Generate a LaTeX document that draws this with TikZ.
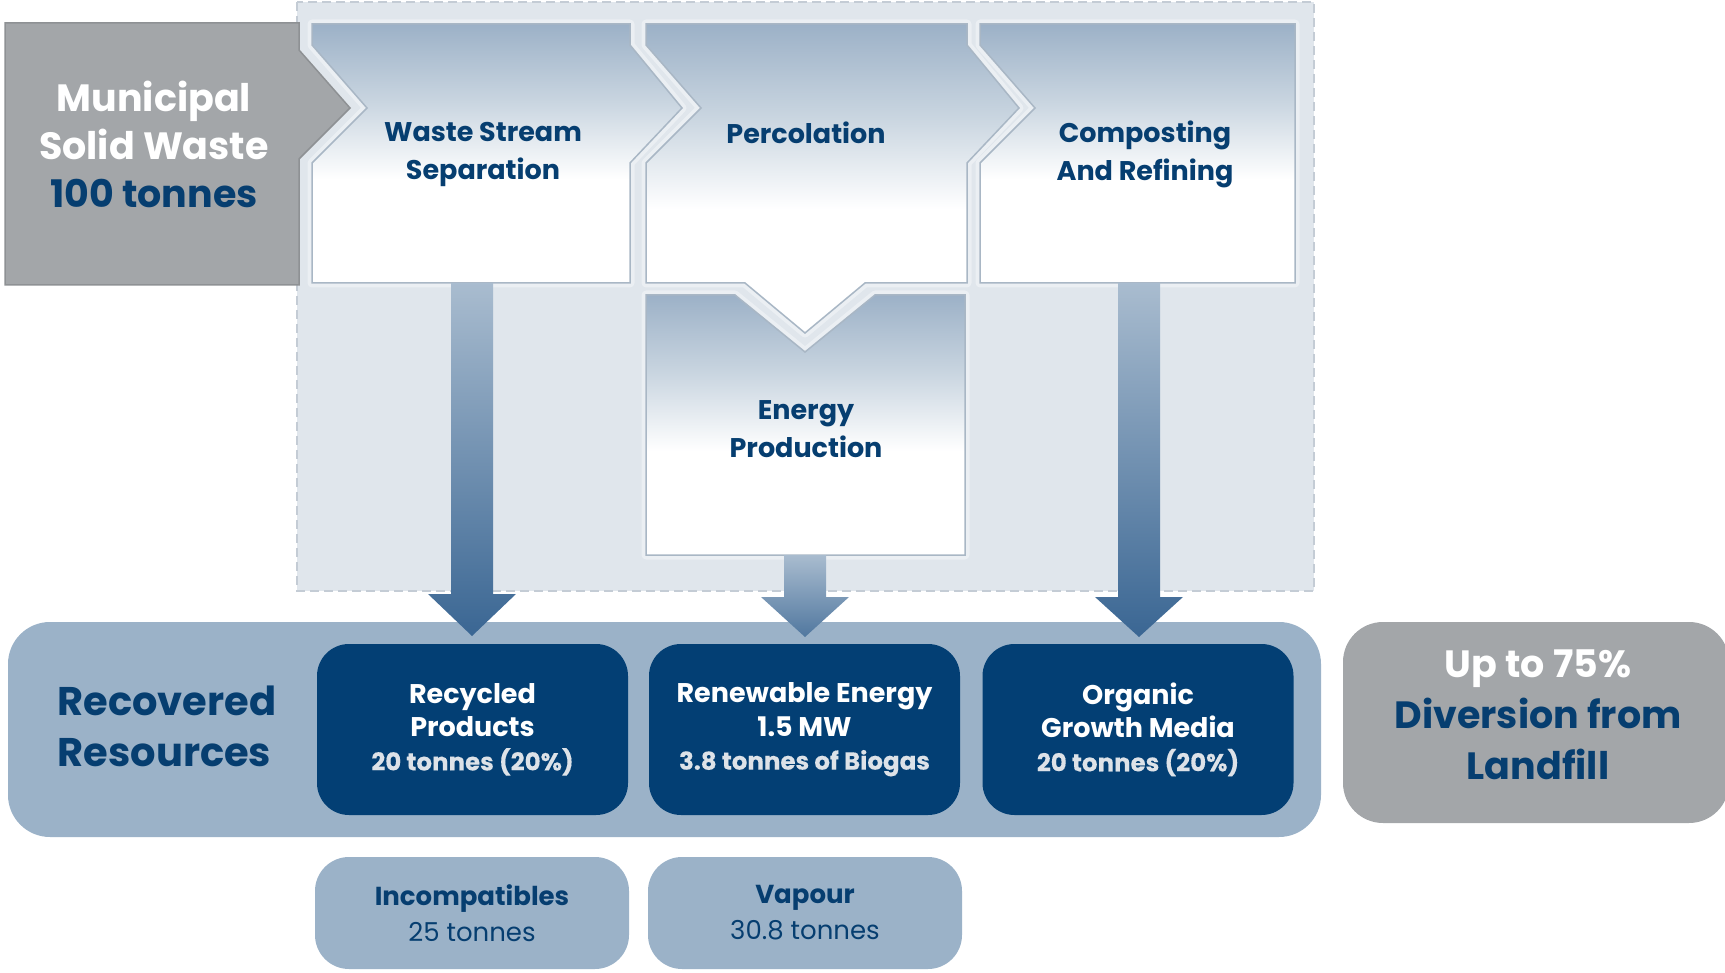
\documentclass[tikz,border=0pt]{standalone}
\usepackage{fontspec}
\setmainfont{Poppins}
\newfontfamily\medfont[FakeBold=0.25]{Poppins}
\usetikzlibrary{calc}

\definecolor{navy}{HTML}{033F74}
\definecolor{ink}{HTML}{063E70}
\definecolor{bandblue}{HTML}{9BB2C8}
\definecolor{panel}{HTML}{E0E6EC}
\definecolor{panelline}{HTML}{C4CCD5}
\definecolor{slate}{HTML}{A3A6A9}
\definecolor{slateedge}{HTML}{8E9194}
\definecolor{boxtop}{HTML}{9CB1C7}
\definecolor{boxmid}{HTML}{C9D5E0}
\definecolor{boxedge}{HTML}{A9B7C5}
\definecolor{halo}{HTML}{EBEFF3}
\definecolor{subgray}{HTML}{DDE2E8}
\definecolor{arrowlight}{HTML}{A9BCCF}
\definecolor{arrowdark}{HTML}{3A6693}

% white lower half, blue-grey fade towards the top edge
\pgfdeclareverticalshading{stagefade}{100bp}{color(0bp)=(white); color(25bp)=(white); color(45bp)=(white); color(60bp)=(boxmid); color(75bp)=(boxtop); color(100bp)=(boxtop)}

\tikzset{
  stage/.style={shading=stagefade, draw=boxedge, line width=1.5pt, line join=miter},
  stagehalo/.style={draw=halo, line width=9pt, line join=round},
  stagelabel/.style={text=ink, align=center, font=\fontsize{27}{38}\selectfont\bfseries},
  darkbox/.style={fill=navy, rounded corners=32pt, minimum width=311pt, minimum height=171pt,
                  align=center, text=white, inner sep=0pt, font=\fontsize{27}{33.5}\selectfont\bfseries},
  palebox/.style={fill=bandblue, rounded corners=34pt, minimum width=314pt, minimum height=112pt,
                  align=center, text=ink, inner sep=0pt, font=\fontsize{26}{36}\selectfont},
  flowarrow/.style={top color=arrowlight, bottom color=arrowdark, draw=none},
}
\newcommand{\subline}[1]{{\medfont\fontsize{24.5}{33.5}\selectfont\color{subgray}#1}}

\begin{document}
\begin{tikzpicture}[x=1pt, y=-1pt]
\useasboundingbox (0,0) rectangle (1725,973);

% process panel
\draw[fill=panel, draw=panelline, line width=2pt, dash pattern=on 9pt off 5pt]
  (297,2) rectangle (1314,591);

% input block
\draw[fill=slate, draw=slateedge, line width=1.5pt]
  (5,23) -- (299,23) -- (299,50) -- (350,108) -- (299,159) -- (299,285) -- (5,285) -- cycle;
\node[align=center, text=white, font=\fontsize{38}{48}\selectfont\bfseries] (msw) at (154,144)
  {Municipal\\Solid Waste\\\textcolor{ink}{100 tonnes}};

% process stages
\def\wastepath{(312,24) -- (630,24) -- (630,45) -- (682,108) -- (630,163) -- (630,283) -- (312,283) -- (312,163) -- (367,108) -- (312,45) -- cycle}
\def\percpath{(646,24) -- (967,24) -- (967,45) -- (1019,108) -- (967,163) -- (967,283) -- (865,283) -- (805,333) -- (745,283) -- (646,283) -- (646,163) -- (701,108) -- (646,45) -- cycle}
\def\comppath{(980,24) -- (1295,24) -- (1295,283) -- (980,283) -- (980,163) -- (1035,108) -- (980,45) -- cycle}
\def\energypath{(646,295) -- (735,295) -- (805,352) -- (875,295) -- (965,295) -- (965,555) -- (646,555) -- cycle}

\path[stagehalo] \wastepath;
\path[stagehalo] \percpath;
\path[stagehalo] \comppath;
\path[stagehalo] \energypath;
\path[stage] \wastepath;
\path[stage] \percpath;
\path[stage] \comppath;
\path[stage] \energypath;

\node[stagelabel] (sep) at (483,154) {Waste Stream\\Separation};
\node[stagelabel] (perc) at (806,133) {Percolation};
\node[stagelabel] (comp) at (1145,154) {Composting\\And Refining};
\node[stagelabel] (energy) at (806,429) {Energy\\Production};

% recovered resources band
\node[fill=bandblue, rounded corners=42pt, minimum width=1313pt, minimum height=215pt, inner sep=0pt]
  (band) at (664.5,729.5) {};
\node[anchor=west, align=left, text=ink, font=\fontsize{40}{51}\selectfont\bfseries] (recov) at (54,726)
  {Recovered\\Resources};

\node[darkbox] (recyc) at (472.5,729.5) {Recycled\\Products\\\subline{20 tonnes (20\%)}};
\node[darkbox] (renew) at (804.5,729.5) {Renewable Energy\\1.5 MW\\\subline{3.8 tonnes of Biogas}};
\node[darkbox] (organic) at (1138,729.5) {Organic\\Growth Media\\\subline{20 tonnes (20\%)}};

% residual streams
\node[palebox] (incomp) at (472,913) {\textbf{Incompatibles}\\25 tonnes};
\node[palebox] (vapour) at (805,913) {\textbf{Vapour}\\30.8 tonnes};

% outcome
\node[fill=slate, rounded corners=40pt, minimum width=386pt, minimum height=201pt, inner sep=0pt]
  (outcome) at (1536,722.5) {};
\node[align=center, text=ink, font=\fontsize{38}{51}\selectfont\bfseries] (divert) at (1538,715)
  {\textcolor{white}{Up to 75\%}\\Diversion from\\Landfill};

% flow arrows from stages into the band
\coordinate (s1) at (472,283);  \coordinate (t1) at (472,636);
\coordinate (s2) at (805,555);  \coordinate (t2) at (805,637);
\coordinate (s3) at (1139,283); \coordinate (t3) at (1139,637);

\path[flowarrow] ($(s1)+(-21,0)$) -- ($(s1)+(21,0)$) -- ($(t1)+(21,-42)$) -- ($(t1)+(44,-42)$) -- (t1)
  -- ($(t1)+(-44,-42)$) -- ($(t1)+(-21,-42)$) -- cycle;
\path[flowarrow, bottom color=arrowdark!80!arrowlight] ($(s2)+(-21,0)$) -- ($(s2)+(21,0)$) -- ($(t2)+(21,-40)$) -- ($(t2)+(44,-40)$) -- (t2)
  -- ($(t2)+(-44,-40)$) -- ($(t2)+(-21,-40)$) -- cycle;
\path[flowarrow] ($(s3)+(-21,0)$) -- ($(s3)+(21,0)$) -- ($(t3)+(21,-40)$) -- ($(t3)+(44,-40)$) -- (t3)
  -- ($(t3)+(-44,-40)$) -- ($(t3)+(-21,-40)$) -- cycle;
\end{tikzpicture}
\end{document}
